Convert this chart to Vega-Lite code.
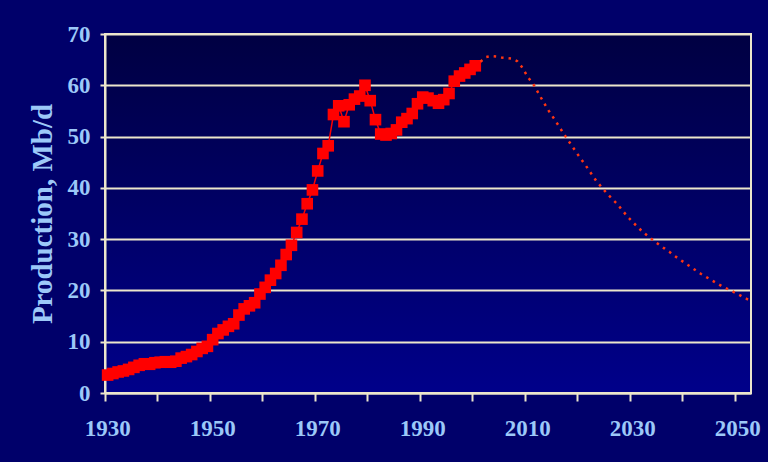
{
  "$schema": "https://vega.github.io/schema/vega-lite/v6.json",
  "width": 646,
  "height": 359,
  "autosize": {"type": "none"},
  "padding": {"left": 105, "top": 34, "right": 17, "bottom": 69},
  "background": "#00006a",
  "config": {
    "view": {
      "stroke": "#ece6cc",
      "strokeWidth": 2,
      "fill": {"gradient": "linear", "x1": 0, "y1": 0, "x2": 0, "y2": 1, "stops": [{"offset": 0, "color": "#000042"}, {"offset": 1, "color": "#00008a"}]}
    },
    "axis": {
      "labelFont": "Liberation Serif",
      "labelFontWeight": "bold",
      "labelFontSize": 23,
      "labelColor": "#9cc8f8",
      "titleFont": "Liberation Serif",
      "titleFontWeight": "bold",
      "titleFontSize": 29,
      "titleColor": "#9cc8f8",
      "domainColor": "#ece6cc",
      "domainWidth": 2,
      "tickColor": "#ece6cc",
      "tickWidth": 2,
      "gridColor": "#ece6cc",
      "gridWidth": 2,
      "gridOpacity": 1
    }
  },
  "data": {
    "values": [
      {"year": 1930, "value": 3.5, "series": "hist"},
      {"year": 1931, "value": 3.8, "series": "hist"},
      {"year": 1932, "value": 4.1, "series": "hist"},
      {"year": 1933, "value": 4.3, "series": "hist"},
      {"year": 1934, "value": 4.6, "series": "hist"},
      {"year": 1935, "value": 5.0, "series": "hist"},
      {"year": 1936, "value": 5.4, "series": "hist"},
      {"year": 1937, "value": 5.7, "series": "hist"},
      {"year": 1938, "value": 5.6, "series": "hist"},
      {"year": 1939, "value": 5.9, "series": "hist"},
      {"year": 1940, "value": 6.0, "series": "hist"},
      {"year": 1941, "value": 6.1, "series": "hist"},
      {"year": 1942, "value": 6.0, "series": "hist"},
      {"year": 1943, "value": 6.2, "series": "hist"},
      {"year": 1944, "value": 6.8, "series": "hist"},
      {"year": 1945, "value": 7.1, "series": "hist"},
      {"year": 1946, "value": 7.5, "series": "hist"},
      {"year": 1947, "value": 8.1, "series": "hist"},
      {"year": 1948, "value": 8.7, "series": "hist"},
      {"year": 1949, "value": 9.1, "series": "hist"},
      {"year": 1950, "value": 10.4, "series": "hist"},
      {"year": 1951, "value": 11.6, "series": "hist"},
      {"year": 1952, "value": 12.3, "series": "hist"},
      {"year": 1953, "value": 13.0, "series": "hist"},
      {"year": 1954, "value": 13.5, "series": "hist"},
      {"year": 1955, "value": 15.2, "series": "hist"},
      {"year": 1956, "value": 16.4, "series": "hist"},
      {"year": 1957, "value": 17.0, "series": "hist"},
      {"year": 1958, "value": 17.6, "series": "hist"},
      {"year": 1959, "value": 19.3, "series": "hist"},
      {"year": 1960, "value": 20.6, "series": "hist"},
      {"year": 1961, "value": 22.0, "series": "hist"},
      {"year": 1962, "value": 23.3, "series": "hist"},
      {"year": 1963, "value": 24.9, "series": "hist"},
      {"year": 1964, "value": 27.0, "series": "hist"},
      {"year": 1965, "value": 28.8, "series": "hist"},
      {"year": 1966, "value": 31.3, "series": "hist"},
      {"year": 1967, "value": 33.9, "series": "hist"},
      {"year": 1968, "value": 36.9, "series": "hist"},
      {"year": 1969, "value": 39.6, "series": "hist"},
      {"year": 1970, "value": 43.3, "series": "hist"},
      {"year": 1971, "value": 46.7, "series": "hist"},
      {"year": 1972, "value": 48.2, "series": "hist"},
      {"year": 1973, "value": 54.3, "series": "hist"},
      {"year": 1974, "value": 56.0, "series": "hist"},
      {"year": 1975, "value": 52.9, "series": "hist"},
      {"year": 1976, "value": 56.2, "series": "hist"},
      {"year": 1977, "value": 57.3, "series": "hist"},
      {"year": 1978, "value": 57.9, "series": "hist"},
      {"year": 1979, "value": 60.0, "series": "hist"},
      {"year": 1980, "value": 57.0, "series": "hist"},
      {"year": 1981, "value": 53.3, "series": "hist"},
      {"year": 1982, "value": 50.5, "series": "hist"},
      {"year": 1983, "value": 50.3, "series": "hist"},
      {"year": 1984, "value": 50.6, "series": "hist"},
      {"year": 1985, "value": 51.3, "series": "hist"},
      {"year": 1986, "value": 52.8, "series": "hist"},
      {"year": 1987, "value": 53.5, "series": "hist"},
      {"year": 1988, "value": 54.5, "series": "hist"},
      {"year": 1989, "value": 56.4, "series": "hist"},
      {"year": 1990, "value": 57.7, "series": "hist"},
      {"year": 1991, "value": 57.5, "series": "hist"},
      {"year": 1992, "value": 57.0, "series": "hist"},
      {"year": 1993, "value": 56.5, "series": "hist"},
      {"year": 1994, "value": 57.2, "series": "hist"},
      {"year": 1995, "value": 58.4, "series": "hist"},
      {"year": 1996, "value": 60.8, "series": "hist"},
      {"year": 1997, "value": 61.8, "series": "hist"},
      {"year": 1998, "value": 62.4, "series": "hist"},
      {"year": 1999, "value": 63.1, "series": "hist"},
      {"year": 2000, "value": 63.8, "series": "hist"},
      {"year": 2001, "value": 64.6, "series": "forecast"},
      {"year": 2002, "value": 65.5, "series": "forecast"},
      {"year": 2003, "value": 65.7, "series": "forecast"},
      {"year": 2004, "value": 65.6, "series": "forecast"},
      {"year": 2005, "value": 65.4, "series": "forecast"},
      {"year": 2006, "value": 65.3, "series": "forecast"},
      {"year": 2007, "value": 65.2, "series": "forecast"},
      {"year": 2008, "value": 64.7, "series": "forecast"},
      {"year": 2009, "value": 63.4, "series": "forecast"},
      {"year": 2010, "value": 61.6, "series": "forecast"},
      {"year": 2011, "value": 60.3, "series": "forecast"},
      {"year": 2012, "value": 58.5, "series": "forecast"},
      {"year": 2013, "value": 56.7, "series": "forecast"},
      {"year": 2014, "value": 55.0, "series": "forecast"},
      {"year": 2015, "value": 53.5, "series": "forecast"},
      {"year": 2016, "value": 51.9, "series": "forecast"},
      {"year": 2017, "value": 50.3, "series": "forecast"},
      {"year": 2018, "value": 48.8, "series": "forecast"},
      {"year": 2019, "value": 47.3, "series": "forecast"},
      {"year": 2020, "value": 45.8, "series": "forecast"},
      {"year": 2021, "value": 44.4, "series": "forecast"},
      {"year": 2022, "value": 42.9, "series": "forecast"},
      {"year": 2023, "value": 41.4, "series": "forecast"},
      {"year": 2024, "value": 40.2, "series": "forecast"},
      {"year": 2025, "value": 39.0, "series": "forecast"},
      {"year": 2026, "value": 37.9, "series": "forecast"},
      {"year": 2027, "value": 36.9, "series": "forecast"},
      {"year": 2028, "value": 35.6, "series": "forecast"},
      {"year": 2029, "value": 34.4, "series": "forecast"},
      {"year": 2030, "value": 33.3, "series": "forecast"},
      {"year": 2031, "value": 32.3, "series": "forecast"},
      {"year": 2032, "value": 31.3, "series": "forecast"},
      {"year": 2033, "value": 30.5, "series": "forecast"},
      {"year": 2034, "value": 29.7, "series": "forecast"},
      {"year": 2035, "value": 28.9, "series": "forecast"},
      {"year": 2036, "value": 28.2, "series": "forecast"},
      {"year": 2037, "value": 27.5, "series": "forecast"},
      {"year": 2038, "value": 26.7, "series": "forecast"},
      {"year": 2039, "value": 26.0, "series": "forecast"},
      {"year": 2040, "value": 25.3, "series": "forecast"},
      {"year": 2041, "value": 24.6, "series": "forecast"},
      {"year": 2042, "value": 23.9, "series": "forecast"},
      {"year": 2043, "value": 23.2, "series": "forecast"},
      {"year": 2044, "value": 22.6, "series": "forecast"},
      {"year": 2045, "value": 22.0, "series": "forecast"},
      {"year": 2046, "value": 21.4, "series": "forecast"},
      {"year": 2047, "value": 20.8, "series": "forecast"},
      {"year": 2048, "value": 20.3, "series": "forecast"},
      {"year": 2049, "value": 19.8, "series": "forecast"},
      {"year": 2050, "value": 19.3, "series": "forecast"},
      {"year": 2051, "value": 18.7, "series": "forecast"},
      {"year": 2052, "value": 18.2, "series": "forecast"}
    ]
  },
  "encoding": {
    "x": {
      "field": "year",
      "type": "ordinal",
      "scale": {"type": "band", "paddingInner": 0, "paddingOuter": 0},
      "axis": {
        "title": null,
        "values": [1930, 1940, 1950, 1960, 1970, 1980, 1990, 2000, 2010, 2020, 2030, 2040, 2050],
        "labelExpr": "datum.value % 20 == 10 ? datum.label : ''",
        "bandPosition": 0,
        "labelAngle": 0,
        "tickSize": 8,
        "labelPadding": 16,
        "grid": false
      }
    },
    "y": {
      "field": "value",
      "type": "quantitative",
      "scale": {"domain": [0, 70], "nice": false},
      "axis": {
        "title": "Production, Mb/d",
        "values": [0, 10, 20, 30, 40, 50, 60, 70],
        "tickSize": 5,
        "labelPadding": 10,
        "titlePadding": 10,
        "grid": true
      }
    }
  },
  "layer": [
    {
      "transform": [{"filter": "datum.series == 'hist'"}],
      "mark": {"type": "line", "color": "#ff0000", "strokeWidth": 1.5}
    },
    {
      "transform": [{"filter": "datum.series == 'hist'"}],
      "mark": {"type": "point", "shape": "square", "filled": true, "size": 135, "color": "#ff0000", "opacity": 1}
    },
    {
      "transform": [{"filter": "datum.series == 'forecast'"}],
      "mark": {"type": "line", "color": "#ff3510", "strokeWidth": 2.5, "strokeDash": [2.5, 5]}
    }
  ]
}
